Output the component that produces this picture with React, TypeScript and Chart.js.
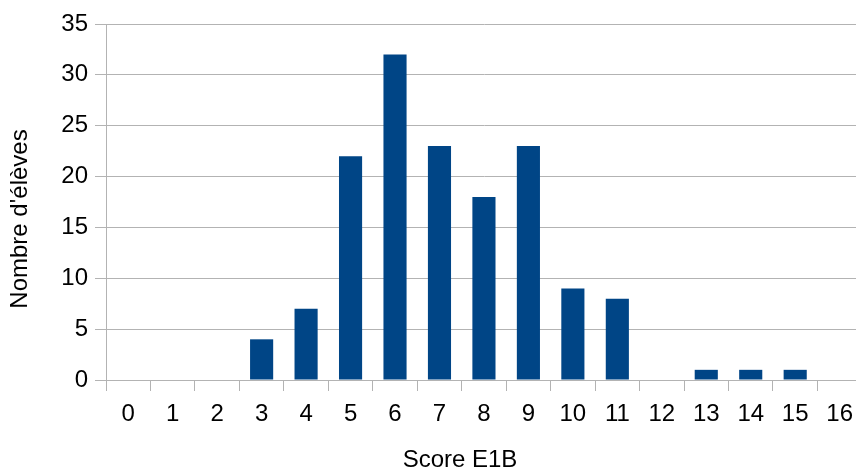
import React, { useEffect, useRef } from "react";
import { Chart, registerables } from "chart.js";

Chart.register(...registerables);

const categories: string[] = ["0", "1", "2", "3", "4", "5", "6", "7", "8", "9", "10", "11", "12", "13", "14", "15", "16"];
const counts: number[] = [0, 0, 0, 4, 7, 22, 32, 23, 18, 23, 9, 8, 0, 1, 1, 1, 0];
const xTitle = "Score E1B";
const yTitle = "Nombre d'élèves";
const yMin = 0;
const yMax = 35;
const yStep = 5;

export default function App() {
  const ref = useRef<HTMLCanvasElement | null>(null);

  useEffect(() => {
    if (!ref.current) return;
    const gridColor = "#b3b3b3";
    const font = "'Liberation Sans', Arial, sans-serif";
    const axisTitles = {
      id: "axisTitles",
      afterDraw(chart: any) {
        const ctx = chart.ctx;
        ctx.save();
        ctx.font = `24px ${font}`;
        ctx.fillStyle = "#000";
        ctx.textAlign = "center";
        ctx.textBaseline = "middle";
        ctx.fillText(xTitle, 460, 460);
        ctx.translate(20, 219);
        ctx.rotate(-Math.PI / 2);
        ctx.fillText(yTitle, 0, 0);
        ctx.restore();
      },
    };
    const chart = new Chart(ref.current, {
      type: "bar",
      data: {
        labels: categories,
        datasets: [
          {
            data: counts,
            backgroundColor: "#004586",
            borderWidth: 0,
            categoryPercentage: 1,
            barPercentage: 0.52,
          },
        ],
      },
      options: {
        responsive: false,
        animation: false,
        layout: { padding: { top: 24, right: 0, bottom: 0, left: 0 } },
        plugins: { legend: { display: false }, tooltip: { enabled: false } },
        scales: {
          x: {
            offset: true,
            grid: {
              offset: true,
              drawOnChartArea: false,
              drawTicks: true,
              tickLength: 11,
              color: gridColor,
              lineWidth: 1,
            },
            border: { color: gridColor, width: 1 },
            ticks: {
              color: "#000",
              padding: 9,
              maxRotation: 0,
              autoSkip: false,
              font: { family: font, size: 24 },
            },
            afterFit: (scale: any) => {
              scale.height = 91;
            },
          },
          y: {
            min: yMin,
            max: yMax,
            grid: {
              color: gridColor,
              lineWidth: 1,
              drawTicks: true,
              tickLength: 11,
            },
            border: { color: gridColor, width: 1 },
            ticks: {
              stepSize: yStep,
              color: "#000",
              padding: 7,
              font: { family: font, size: 24 },
            },
            afterFit: (scale: any) => {
              scale.width = 106;
            },
          },
        },
      },
      plugins: [axisTitles],
    });
    return () => chart.destroy();
  }, []);

  return (
    <div
      style={{
        position: "absolute",
        left: 0,
        top: 0,
        width: 856,
        height: 471,
        overflow: "hidden",
        background: "#fff",
      }}
    >
      <canvas ref={ref} width={862} height={471} style={{ display: "block" }} />
    </div>
  );
}
